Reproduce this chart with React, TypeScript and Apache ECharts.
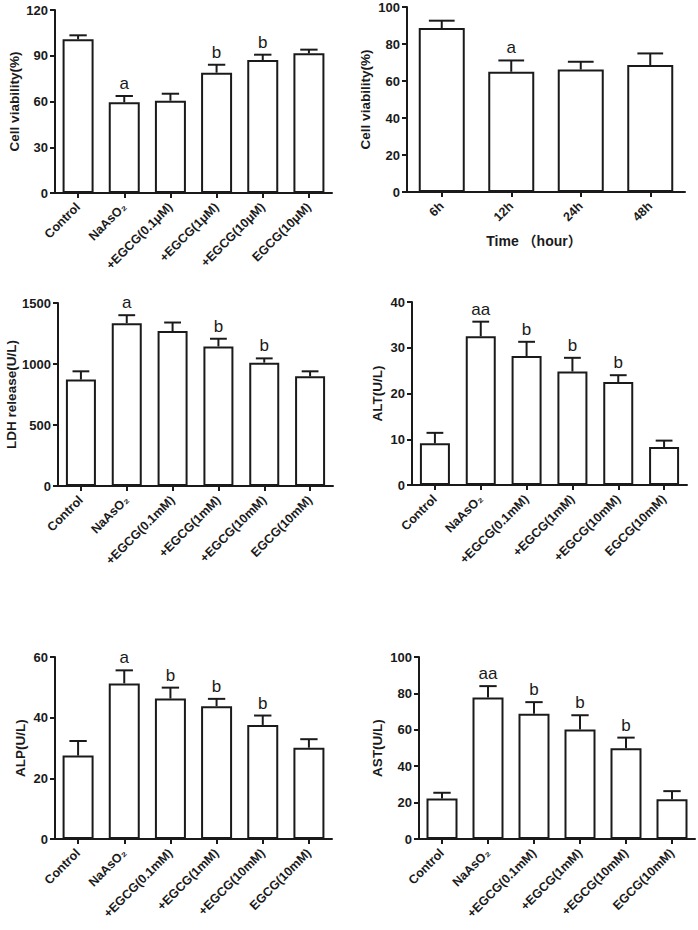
import React, { useEffect, useRef } from 'react';
import * as echarts from 'echarts';

// ---------- data ----------
const catsUM = ['Control', 'NaAsO₂', '+EGCG(0.1μM)', '+EGCG(1μM)', '+EGCG(10μM)', 'EGCG(10μM)'];
const catsMM = ['Control', 'NaAsO₂', '+EGCG(0.1mM)', '+EGCG(1mM)', '+EGCG(10mM)', 'EGCG(10mM)'];
const catsTime = ['6h', '12h', '24h', '48h'];

const viabDose = [100.8, 59.5, 60.5, 78.9, 87.2, 91.6];
const viabDoseSd = [2.6, 4.1, 4.6, 5.2, 3.5, 2.4];
const viabDoseSig = ['', 'a', '', 'b', 'b', ''];

const viabTime = [88.6, 65.0, 66.2, 68.6];
const viabTimeSd = [4.0, 6.1, 4.2, 6.3];
const viabTimeSig = ['', 'a', '', ''];

const ldh = [872, 1335, 1270, 1144, 1011, 899];
const ldhSd = [68, 65, 70, 63, 35, 41];
const ldhSig = ['', 'a', '', 'b', 'b', ''];

const alt = [9.1, 32.5, 28.2, 24.8, 22.5, 8.3];
const altSd = [2.3, 3.2, 3.1, 3.0, 1.5, 1.4];
const altSig = ['', 'aa', 'b', 'b', 'b', ''];

const alp = [27.5, 51.3, 46.3, 43.8, 37.6, 30.1];
const alpSd = [4.8, 4.3, 3.6, 2.4, 3.1, 2.8];
const alpSig = ['', 'a', 'b', 'b', 'b', ''];

const ast = [22.2, 77.8, 68.8, 60.1, 49.9, 21.8];
const astSd = [3.2, 6.2, 6.4, 7.9, 5.8, 4.5];
const astSig = ['', 'aa', 'b', 'b', 'b', ''];

// ---------- styling ----------
const FONT = '"Liberation Sans", Arial, Helvetica, "DejaVu Sans", sans-serif';
const INK = '#1a1a1a';

type Panel = {
  grid: { left: number; top: number; width: number; height: number };
  cats: string[];
  values: number[];
  sd: number[];
  sig: string[];
  max: number;
  interval: number;
  yName: string;
  yGap: number;
  barWidth: number;
  xName?: string;
};

const panels: Panel[] = [
  { grid: { left: 55, top: 10, width: 277, height: 183 }, cats: catsUM, values: viabDose, sd: viabDoseSd, sig: viabDoseSig, max: 120, interval: 30, yName: 'Cell viability(%)', yGap: 34, barWidth: 31 },
  { grid: { left: 407, top: 7, width: 278, height: 185 }, cats: catsTime, values: viabTime, sd: viabTimeSd, sig: viabTimeSig, max: 100, interval: 20, yName: 'Cell viability(%)', yGap: 35, barWidth: 46, xName: 'Time （hour）' },
  { grid: { left: 58, top: 303, width: 275, height: 183 }, cats: catsMM, values: ldh, sd: ldhSd, sig: ldhSig, max: 1500, interval: 500, yName: 'LDH release(U/L)', yGap: 38, barWidth: 30 },
  { grid: { left: 412, top: 302, width: 275, height: 183 }, cats: catsMM, values: alt, sd: altSd, sig: altSig, max: 40, interval: 10, yName: 'ALT(U/L)', yGap: 28, barWidth: 30 },
  { grid: { left: 55, top: 657, width: 277, height: 182 }, cats: catsMM, values: alp, sd: alpSd, sig: alpSig, max: 60, interval: 20, yName: 'ALP(U/L)', yGap: 28, barWidth: 31 },
  { grid: { left: 419, top: 657, width: 276, height: 182 }, cats: catsMM, values: ast, sd: astSd, sig: astSig, max: 100, interval: 20, yName: 'AST(U/L)', yGap: 35, barWidth: 31 },
];

function buildOption() {
  const grid: any[] = [];
  const xAxis: any[] = [];
  const yAxis: any[] = [];
  const series: any[] = [];

  panels.forEach((p, i) => {
    grid.push({ ...p.grid, containLabel: false });
    xAxis.push({
      type: 'category',
      gridIndex: i,
      data: p.cats,
      name: p.xName,
      nameLocation: 'middle',
      nameGap: 42,
      nameTextStyle: { fontFamily: FONT + ', "Noto Sans CJK SC"', fontWeight: 'bold', fontSize: 14, color: INK, padding: [0, 24, 0, 0] },
      axisLine: { show: true, lineStyle: { color: INK, width: 2 } },
      axisTick: { show: true, alignWithLabel: true, length: 5, lineStyle: { color: INK, width: 2 } },
      axisLabel: {
        interval: 0,
        rotate: 45,
        margin: 12,
        color: INK,
        fontFamily: FONT,
        fontWeight: 'bold',
        fontSize: 12.5,
      },
      splitLine: { show: false },
    });
    yAxis.push({
      type: 'value',
      gridIndex: i,
      min: 0,
      max: p.max,
      interval: p.interval,
      name: p.yName,
      nameLocation: 'middle',
      nameGap: p.yGap,
      nameTextStyle: { fontFamily: FONT, fontWeight: 'bold', fontSize: 13.5, color: INK },
      axisLine: { show: true, lineStyle: { color: INK, width: 2 } },
      axisTick: { show: true, length: 5, lineStyle: { color: INK, width: 2 } },
      axisLabel: { color: INK, fontFamily: FONT, fontWeight: 'bold', fontSize: 13, margin: 7, formatter: (v: number) => String(v) },
      splitLine: { show: false },
    });
    series.push({
      type: 'bar',
      xAxisIndex: i,
      yAxisIndex: i,
      data: p.values,
      barWidth: p.barWidth,
      itemStyle: { color: '#ffffff', borderColor: INK, borderWidth: 2 },
      z: 2,
    });
    const capHalf = p.barWidth * 0.28;
    series.push({
      type: 'custom',
      xAxisIndex: i,
      yAxisIndex: i,
      data: p.values.map((v, j) => [j, v, v + p.sd[j]]),
      encode: { x: 0, y: [1, 2] },
      z: 3,
      renderItem: (params: any, api: any) => {
        const idx = api.value(0);
        const base = api.coord([idx, api.value(1)]);
        const hi = api.coord([idx, api.value(2)]);
        const s = p.sig[params.dataIndex];
        const children: any[] = [
          { type: 'line', shape: { x1: base[0], y1: base[1], x2: hi[0], y2: hi[1] }, style: { stroke: INK, lineWidth: 2 } },
          { type: 'line', shape: { x1: hi[0] - capHalf, y1: hi[1], x2: hi[0] + capHalf, y2: hi[1] }, style: { stroke: INK, lineWidth: 2 } },
        ];
        if (s) {
          children.push({
            type: 'text',
            x: hi[0],
            y: hi[1] - 4,
            style: { text: s, fill: INK, fontFamily: FONT, fontSize: 17, align: 'center', verticalAlign: 'bottom' },
          });
        }
        return { type: 'group', children };
      },
    });
  });

  return {
    animation: false,
    backgroundColor: '#ffffff',
    textStyle: { color: INK },
    grid,
    xAxis,
    yAxis,
    series,
  };
}

export default function App() {
  const ref = useRef<HTMLDivElement>(null);
  useEffect(() => {
    if (!ref.current) return;
    const chart = echarts.init(ref.current, undefined, { renderer: 'svg' });
    chart.setOption(buildOption() as any);
    return () => chart.dispose();
  }, []);
  return <div ref={ref} style={{ position: 'absolute', left: 0, top: 0, width: 698, height: 930, background: '#fff' }} />;
}
